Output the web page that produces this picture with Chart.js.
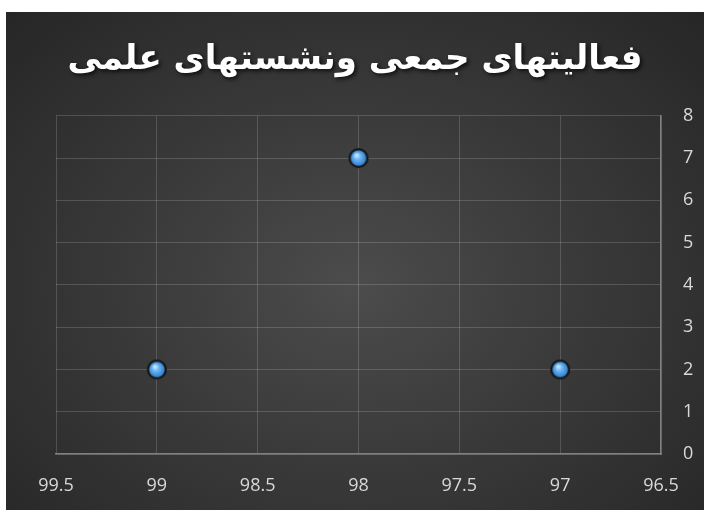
<!DOCTYPE html>
<html>
<head>
<meta charset="utf-8">
<script src="https://cdn.jsdelivr.net/npm/chart.js@4"></script>
<style>
  body { margin: 0; background: #fff; }
  #wrap {
    position: absolute; left: 6px; top: 12px; width: 698px; height: 498px;
    background: radial-gradient(ellipse at 50% 55%, #4c4c4c 0%, #3a3a3a 45%, #262626 100%);
  }
</style>
</head>
<body>
<div id="wrap"><canvas id="chart" width="698" height="498"></canvas></div>
<script>
const titleText = 'فعالیتهای جمعی ونشستهای علمی';
const xValues = [99, 98, 97];
const yValues = [2, 7, 2];

// blue glossy marker
function makeMarker() {
  const c = document.createElement('canvas');
  c.width = 22; c.height = 22;
  const g = c.getContext('2d');
  g.beginPath();
  g.arc(11, 11, 10, 0, Math.PI * 2);
  g.fillStyle = '#161616';
  g.fill();
  const grad = g.createRadialGradient(9, 8, 1, 11, 11, 8);
  grad.addColorStop(0, '#c4e6ff');
  grad.addColorStop(0.35, '#6cb6f2');
  grad.addColorStop(1, '#2d7dcc');
  g.beginPath();
  g.arc(11, 11, 7.8, 0, Math.PI * 2);
  g.fillStyle = grad;
  g.fill();
  return c;
}

// drop shadow behind the title
const titleShadow = {
  id: 'titleShadow',
  afterInit(chart) {
    const t = chart.titleBlock;
    const orig = t.draw.bind(t);
    t.draw = function () {
      const ctx = chart.ctx;
      ctx.save();
      ctx.shadowColor = 'rgba(0,0,0,0.75)';
      ctx.shadowBlur = 4;
      ctx.shadowOffsetX = 2;
      ctx.shadowOffsetY = 2;
      orig();
      ctx.restore();
    };
  }
};

new Chart(document.getElementById('chart'), {
  type: 'scatter',
  data: {
    datasets: [{
      data: xValues.map((x, i) => ({ x: x, y: yValues[i] })),
      pointStyle: makeMarker(),
      pointRadius: 10
    }]
  },
  options: {
    responsive: false,
    animation: false,
    layout: { padding: 0 },
    plugins: {
      legend: { display: false },
      tooltip: { enabled: false },
      title: {
        display: true,
        text: titleText,
        color: '#ffffff',
        font: { family: 'DejaVu Sans', size: 34, weight: 'bold' },
        padding: { top: 28, bottom: 35 }
      }
    },
    scales: {
      x: {
        type: 'linear',
        reverse: true,
        min: 96.5,
        max: 99.5,
        afterFit(scale) { scale.paddingLeft = 50; scale.height = 56; },
        ticks: {
          stepSize: 0.5, color: '#d9d9d9', padding: 21,
          font: { family: 'Open Sans', size: 18 },
          callback: v => String(v)
        },
        grid: { color: 'rgba(255,255,255,0.16)', drawTicks: false },
        border: { color: '#808080', width: 1.5 }
      },
      y: {
        position: 'right',
        min: 0,
        max: 8,
        afterFit(scale) { scale.width = 43; },
        ticks: { stepSize: 1, color: '#d9d9d9', padding: 22, font: { family: 'Open Sans', size: 18 } },
        grid: { color: 'rgba(255,255,255,0.16)', drawTicks: false },
        border: { color: '#808080', width: 1.5 }
      }
    }
  },
  plugins: [titleShadow]
});
</script>
</body>
</html>
